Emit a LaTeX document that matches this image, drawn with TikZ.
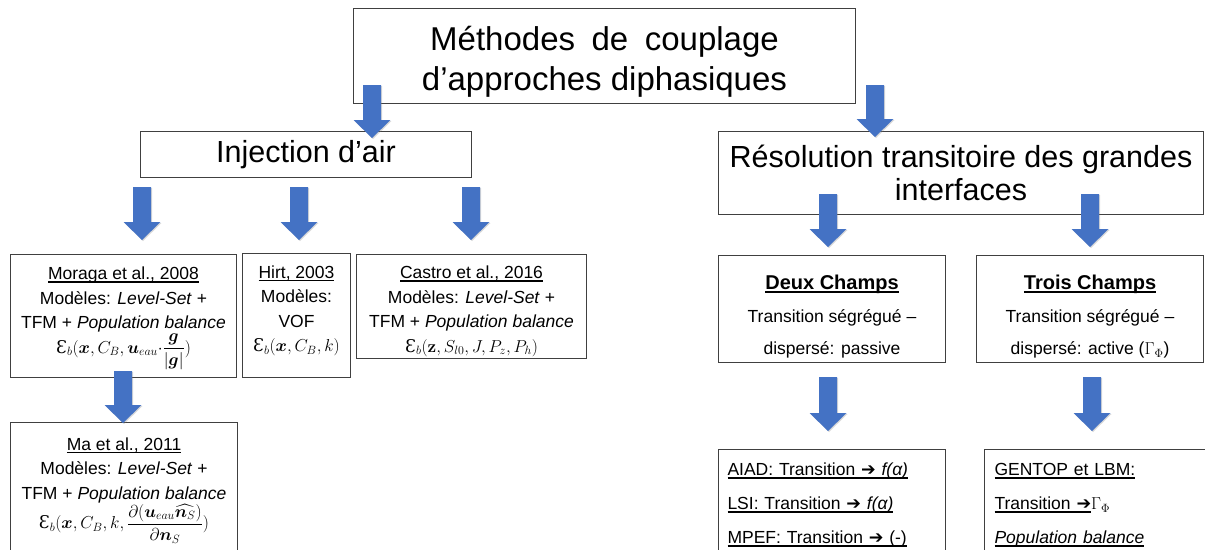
\documentclass[tikz,border=0pt]{standalone}
\usepackage{amsmath,amssymb}
\usepackage[no-math]{fontspec}
\setmainfont{Liberation Sans}
\newfontfamily\dejavu{DejaVu Sans}
\newfontfamily\dvserif{DejaVu Serif}
\usetikzlibrary{calc,shadows}
\newcommand{\Eps}{\text{\dvserif Ɛ}}
\newcommand{\arr}{{\dejavu\bfseries ➔}}
\newsavebox{\ulbox}
\newcommand{\uln}[1]{\leavevmode\sbox{\ulbox}{#1}\rlap{\rule[-3pt]{\wd\ulbox}{1.2pt}}\usebox{\ulbox}}
\definecolor{arrowblue}{HTML}{4472C4}
\tikzset{
  box/.style={draw=black!75, line width=1pt, fill=white, inner sep=0pt, anchor=north west, align=center},
  small/.style={font=\fontsize{17.5}{24.5}\selectfont},
  big/.style={font=\fontsize{30.5}{33}\selectfont},
  blockarrow/.style={fill=arrowblue, drop shadow={shadow xshift=1pt, shadow yshift=-1pt, opacity=0.3}},
}
\newcommand{\barrow}[2]{%
  \path[blockarrow] let \p1=(#1), \p2=(#2) in
    (\x1-9pt,\y1) -- (\x1+9pt,\y1) -- (\x1+9pt,\y2+18pt) -- (\x1+18.5pt,\y2+18pt)
    -- (\x1,\y2) -- (\x1-18.5pt,\y2+18pt) -- (\x1-9pt,\y2+18pt) -- cycle;}
\begin{document}
\begin{tikzpicture}[x=1pt,y=-1pt]
\useasboundingbox (0,0) rectangle (1205,549);
\clip (0,0) rectangle (1205,549);
\fill[white] (0,0) rectangle (1205,549);

% top
\node[box, minimum width=502pt, minimum height=95pt, font=\fontsize{33}{40}\selectfont] (top) at (353,8)
  {\rule{0pt}{36pt}Méthodes\hspace{0.5em}de\hspace{0.5em}couplage\\ d’approches diphasiques};

% level 2
\node[box, big, minimum width=331pt, minimum height=46pt] (inj) at (140,131) {Injection d’air};
\node[box, big, minimum width=485pt, minimum height=83pt] (res) at (718,131)
  {Résolution transitoire des grandes\\ interfaces};

% injection children
\node[box, small, minimum width=226pt, minimum height=123pt] (mor) at (10,254)
  {\rule{0pt}{17pt}\uln{Moraga et al., 2008}\\ Modèles: \textit{Level-Set} +\\ TFM + \textit{Population balance}\\
   $\Eps_b(\boldsymbol{x},C_B,\boldsymbol{u}_{eau}{\cdot}\dfrac{\boldsymbol{g}}{|\boldsymbol{g}|})$};
\node[box, small, minimum width=108pt, minimum height=124pt] (hirt) at (242,253)
  {\uln{Hirt, 2003}\\ Modèles:\\ VOF\\ $\Eps_b(\boldsymbol{x},C_B,k)$\\[-11pt]\mbox{}};
\node[box, small, minimum width=230pt, minimum height=104pt] (cas) at (356,254)
  {\rule{0pt}{22pt}\uln{Castro et al., 2016}\\ Modèles: \textit{Level-Set} +\\ TFM + \textit{Population balance}\\
   $\Eps_b(\mathbf{z},S_{l0},J,P_z,P_h)$};
\node[box, small, minimum width=227pt, minimum height=136pt] (ma) at (10,422)
  {\uln{Ma et al., 2011}\\ Modèles: \textit{Level-Set} +\\ TFM + \textit{Population balance}\\
   $\Eps_b(\boldsymbol{x},C_B,k,\dfrac{\partial(\boldsymbol{u}_{eau}\widehat{\boldsymbol{n}_S})}{\partial\boldsymbol{n}_S})$};

% resolution children
\node[box, font=\fontsize{17.5}{32.5}\selectfont, minimum width=227pt, minimum height=107pt] (deux) at (718,255)
  {\rule{0pt}{30pt}{\fontsize{20}{20}\selectfont\bfseries\uln{Deux Champs}}\\ Transition ségrégué –\\ dispersé: passive};
\node[box, font=\fontsize{17.5}{32.5}\selectfont, minimum width=227pt, minimum height=107pt] (trois) at (976,255)
  {\rule{0pt}{30pt}{\fontsize{20}{20}\selectfont\bfseries\uln{Trois Champs}}\\ Transition ségrégué –\\ dispersé: active ($\Gamma_{\Phi}$)};
\node[box, font=\fontsize{17.5}{34}\selectfont, align=left, text width=209pt, minimum height=104pt, inner xsep=9pt] (aiad) at (718,449)
  {\rule{0pt}{20pt}\uln{AIAD: Transition \arr\ \textit{f(α)}}\\ \uln{LSI: Transition \arr\ \textit{f(α)}}\\ \uln{MPEF: Transition \arr\ (-)}};
\node[box, font=\fontsize{17.5}{34}\selectfont, align=left, text width=212pt, minimum height=104pt, inner xsep=10pt] (gen) at (984,449)
  {\rule{0pt}{20pt}\uln{GENTOP et LBM:}\\ \uln{Transition \arr}$\Gamma_{\Phi}$\\ \uln{\textit{Population balance}}};

% arrow end points
\coordinate (a1s) at (372,85);  \coordinate (a1e) at (372,138);
\coordinate (a2s) at (875,85);  \coordinate (a2e) at (875,137);
\coordinate (a3s) at (142,187); \coordinate (a3e) at (142,240);
\coordinate (a4s) at (299,187); \coordinate (a4e) at (299,240);
\coordinate (a5s) at (471,187); \coordinate (a5e) at (471,240);
\coordinate (a6s) at (123,371); \coordinate (a6e) at (123,423);
\coordinate (a7s) at (828,194); \coordinate (a7e) at (828,247);
\coordinate (a8s) at (1090,194); \coordinate (a8e) at (1090,247);
\coordinate (a9s) at (828,377); \coordinate (a9e) at (828,431);
\coordinate (a10s) at (1092,377); \coordinate (a10e) at (1092,431);

\barrow{a1s}{a1e}
\barrow{a2s}{a2e}
\barrow{a3s}{a3e}
\barrow{a4s}{a4e}
\barrow{a5s}{a5e}
\barrow{a6s}{a6e}
\barrow{a7s}{a7e}
\barrow{a8s}{a8e}
\barrow{a9s}{a9e}
\barrow{a10s}{a10e}
\end{tikzpicture}
\end{document}
